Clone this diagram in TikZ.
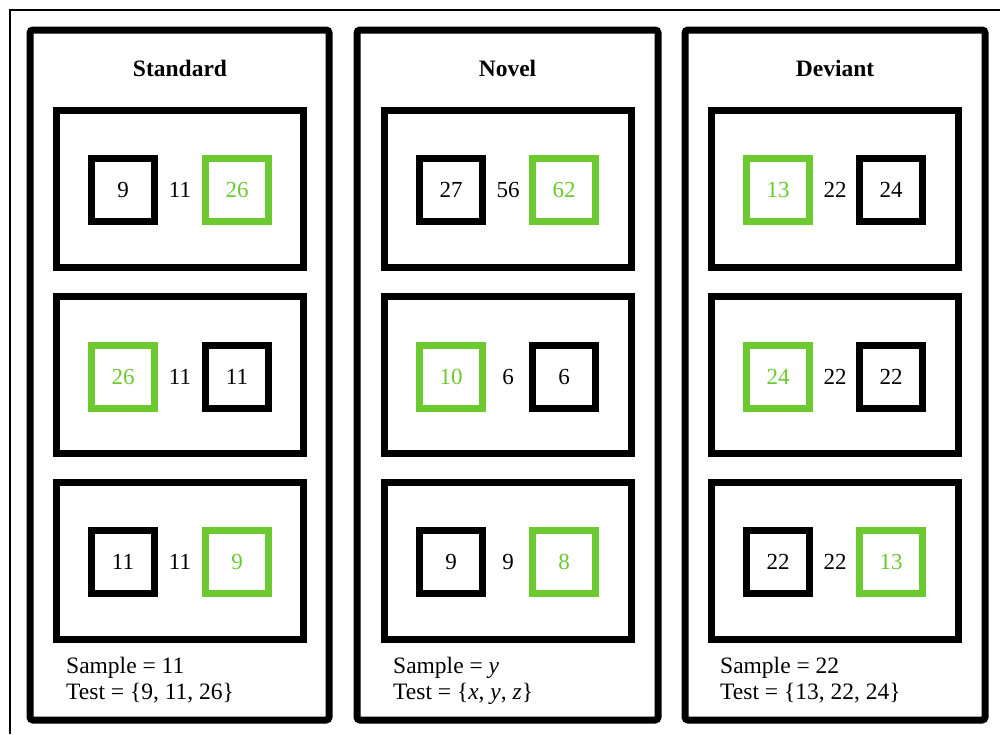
\documentclass[tikz,border=0pt]{standalone}
\usepackage{fontspec}
\setmainfont{Liberation Serif}
\definecolor{cgreen}{RGB}{108,201,48}
\begin{document}
\begin{tikzpicture}[x=1pt,y=-1pt,
  panel/.style={draw=black,line width=7pt,rounded corners=3pt},
  trial/.style={draw=black,line width=7pt,minimum width=247pt,minimum height=157pt,inner sep=0pt},
  sq/.style={draw=black,line width=7pt,minimum size=63pt,inner sep=0pt,font=\fontsize{23}{27}\selectfont},
  gsq/.style={sq,draw=cgreen,text=cgreen},
  mid/.style={inner sep=0pt,font=\fontsize{23}{27}\selectfont},
  ttl/.style={inner sep=0pt,font=\fontsize{23.5}{28}\selectfont\bfseries},
  info/.style={anchor=base west,inner sep=0pt,font=\fontsize{23.5}{28}\selectfont}]
\useasboundingbox (0,0) rectangle (1000,734);
\fill[white] (0,0) rectangle (1000,734);
\draw[line width=1.5pt] (10,734) -- (10,10) -- (1000,10);
% panels
\draw[panel] (30,30) rectangle (329,720);
\draw[panel] (357,30) rectangle (658,720);
\draw[panel] (685,30) rectangle (985,720);
\node[ttl] (t1) at (180,68) {Standard};
\node[ttl] (t2) at (507.5,68) {Novel};
\node[ttl] (t3) at (835,68) {Deviant};
% trial boxes
\foreach \cx/\p in {180/a,507.5/b,834.5/c}{
  \node[trial] (\p1) at (\cx,189) {};
  \node[trial] (\p2) at (\cx,375) {};
  \node[trial] (\p3) at (\cx,561) {};
}
% Standard
\node[sq]  (a1l) at (123,190) {9};
\node[mid] (a1m) at (180,190) {11};
\node[gsq] (a1r) at (237,190) {26};
\node[gsq] (a2l) at (123,377) {26};
\node[mid] (a2m) at (180,377) {11};
\node[sq]  (a2r) at (237,377) {11};
\node[sq]  (a3l) at (123,562) {11};
\node[mid] (a3m) at (180,562) {11};
\node[gsq] (a3r) at (237,562) {9};
% Novel
\node[sq]  (b1l) at (451,190) {27};
\node[mid] (b1m) at (508,190) {56};
\node[gsq] (b1r) at (564,190) {62};
\node[gsq] (b2l) at (451,377) {10};
\node[mid] (b2m) at (508,377) {6};
\node[sq]  (b2r) at (564,377) {6};
\node[sq]  (b3l) at (451,562) {9};
\node[mid] (b3m) at (508,562) {9};
\node[gsq] (b3r) at (564,562) {8};
% Deviant
\node[gsq] (c1l) at (778,190) {13};
\node[mid] (c1m) at (835,190) {22};
\node[sq]  (c1r) at (891,190) {24};
\node[gsq] (c2l) at (778,377) {24};
\node[mid] (c2m) at (835,377) {22};
\node[sq]  (c2r) at (891,377) {22};
\node[sq]  (c3l) at (778,562) {22};
\node[mid] (c3m) at (835,562) {22};
\node[gsq] (c3r) at (891,562) {13};
% info
\node[info] (s1) at (66,673) {Sample = 11};
\node[info] (e1) at (66,699) {Test = \{9, 11, 26\}};
\node[info] (s2) at (393,673) {Sample = \textit{y}};
\node[info] (e2) at (393,699) {Test = \{\textit{x}, \textit{y}, \textit{z}\}};
\node[info] (s3) at (720,673) {Sample = 22};
\node[info] (e3) at (720,699) {Test = \{13, 22, 24\}};
\end{tikzpicture}
\end{document}
